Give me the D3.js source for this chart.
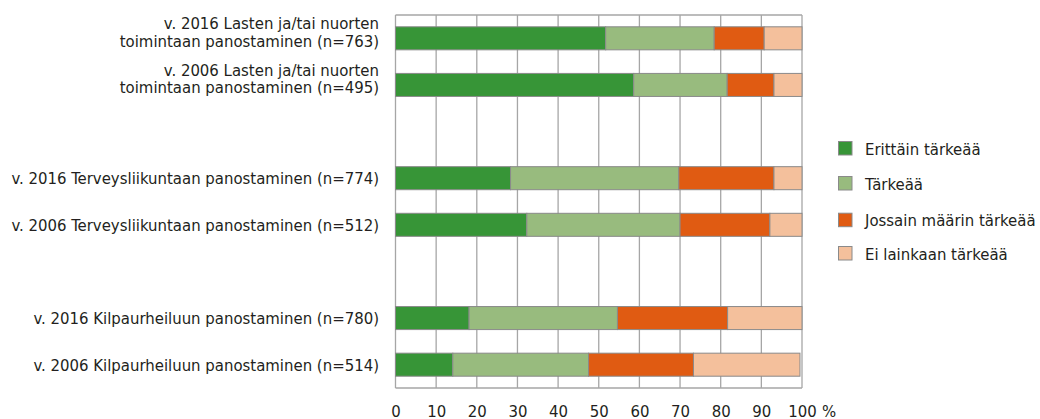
<!DOCTYPE html>
<html><head><meta charset="utf-8">
<script src="https://cdn.jsdelivr.net/npm/d3@7"></script>
<style>
body{margin:0;background:#fff;}
text{font-family:"DejaVu Sans Condensed","DejaVu Sans",sans-serif;fill:#231f20;}
</style></head>
<body><svg id="c" width="1040" height="419"></svg>
<script>
const categories = [
  ["v. 2016 Lasten ja/tai nuorten","toimintaan panostaminen (n=763)"],
  ["v. 2006 Lasten ja/tai nuorten","toimintaan panostaminen (n=495)"],
  [""],
  ["v. 2016 Terveysliikuntaan panostaminen (n=774)"],
  ["v. 2006 Terveysliikuntaan panostaminen (n=512)"],
  [""],
  ["v. 2016 Kilpaurheiluun panostaminen (n=780)"],
  ["v. 2006 Kilpaurheiluun panostaminen (n=514)"]
];
const seriesNames = ["Erittäin tärkeää","Tärkeää","Jossain määrin tärkeää","Ei lainkaan tärkeää"];
const erittain = [51.7, 58.6, null, 28.3, 32.3, null, 18.1, 14.1];
const tarkea   = [26.7, 23.0, null, 41.4, 37.7, null, 36.5, 33.4];
const jossain  = [12.3, 11.5, null, 23.4, 22.1, null, 27.1, 25.8];
const eiLainkaan = [9.3, 6.9, null, 6.9, 7.9, null, 18.3, 26.2];
const xTicks = [0,10,20,30,40,50,60,70,80,90,100];
const colors = ["#379537","#98bb7e","#e05b12","#f4c09c"];

const svg = d3.select("#c");
const pL = 395.5, pR = 802, pT = 15, pB = 388;
const FS = 16.6;
const x = d3.scaleLinear().domain([0,100]).range([pL,pR]);
const y = d3.scaleBand().domain(d3.range(categories.length)).range([pT,pB])
  .paddingInner(0.506).paddingOuter(0.253);

const series = [erittain, tarkea, jossain, eiLainkaan];
const rows = categories.map((c,i)=>({i, vals: series.map(s=>s[i])}));

// gridlines and frame
svg.append("g").selectAll("line").data(xTicks).join("line")
  .attr("x1",d=>x(d)).attr("x2",d=>x(d)).attr("y1",pT).attr("y2",pB)
  .attr("stroke","#a6a6a6").attr("stroke-width",1.3);
svg.append("line").attr("x1",pL).attr("x2",pR).attr("y1",pT).attr("y2",pT).attr("stroke","#a6a6a6").attr("stroke-width",1.3);
svg.append("line").attr("x1",pL).attr("x2",pR).attr("y1",pB).attr("y2",pB).attr("stroke","#a6a6a6").attr("stroke-width",1.3);

// bars
const g = svg.append("g");
rows.forEach(r=>{
  if (r.vals[0]==null) return;
  let acc = 0;
  r.vals.forEach((v,k)=>{
    g.append("rect").attr("x",x(acc)).attr("width",x(acc+v)-x(acc))
     .attr("y",y(r.i)).attr("height",y.bandwidth())
     .attr("fill",colors[k]).attr("stroke","#8a8a8a").attr("stroke-width",1);
    acc += v;
  });
});

// category labels
const lab = svg.append("g");
categories.forEach((lines,i)=>{
  if (!lines[0]) return;
  const cy = y(i)+y.bandwidth()/2;
  const t = lab.append("text").attr("text-anchor","end").attr("font-size",FS);
  if (lines.length === 1) {
    t.append("tspan").attr("x",379).attr("y",cy+6.3).text(lines[0]);
  } else {
    const lh = 17.6;
    lines.forEach((ln,j)=>{
      t.append("tspan").attr("x",379).attr("y",cy + 8.5 + (j-1)*lh).text(ln);
    });
  }
});

// x axis labels
const xa = svg.append("g").attr("transform",`translate(0,${pB})`)
  .call(d3.axisBottom(x).tickValues(xTicks).tickSize(0).tickPadding(0).tickFormat(d3.format("d")));
xa.select(".domain").remove();
xa.selectAll("text").attr("font-size",FS).attr("font-family",null).attr("fill","#231f20")
  .attr("dy",null).attr("y",28.5);
svg.append("text").attr("x",822).attr("y",pB+28.5).attr("font-size",FS).text("%");

// legend
const legY = [148.3, 183.3, 220, 253.3];
const leg = svg.append("g");
seriesNames.forEach((n,k)=>{
  leg.append("rect").attr("x",838.5).attr("y",legY[k]-6.8).attr("width",13.5).attr("height",13.5)
    .attr("fill",colors[k]).attr("stroke","#8a8a8a").attr("stroke-width",1);
  leg.append("text").attr("x",865).attr("y",legY[k]+6.3).attr("font-size",FS).text(n);
});
</script></body></html>
